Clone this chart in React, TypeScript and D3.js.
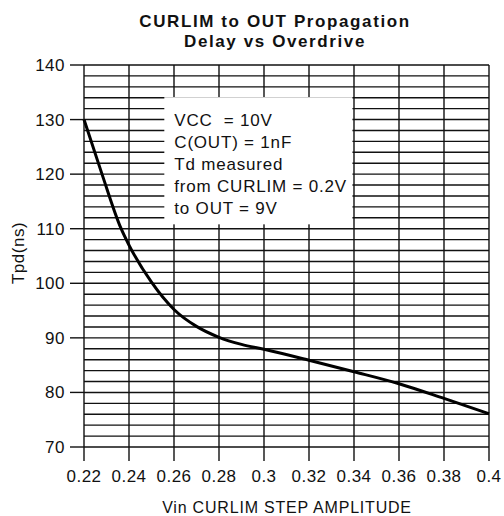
import * as d3 from 'd3';

const xTicks = [0.22, 0.24, 0.26, 0.28, 0.3, 0.32, 0.34, 0.36, 0.38, 0.4];
const xTickLabels = ['0.22', '0.24', '0.26', '0.28', '0.3', '0.32', '0.34', '0.36', '0.38', '0.4'];
const yTicks = [70, 80, 90, 100, 110, 120, 130, 140];
const yGrid = d3.range(70, 141, 2);

// Vin step amplitude (V) vs propagation delay (ns)
const vin = [0.22, 0.228, 0.2365, 0.24, 0.25, 0.26, 0.27, 0.28, 0.29, 0.3, 0.32, 0.34, 0.36, 0.38, 0.4];
const tpd = [130, 120, 110, 107, 100.2, 95.2, 92.1, 90.1, 88.8, 87.9, 85.9, 83.8, 81.6, 78.9, 76.1];

const legendLines = ['VCC  = 10V', 'C(OUT) = 1nF', 'Td measured', 'from CURLIM = 0.2V', 'to OUT = 9V'];

const W = 504;
const H = 516;
const FONT = '"Liberation Sans", Arial, Helvetica, sans-serif';

export default function App() {
  const x = d3.scaleLinear().domain([0.22, 0.4]).range([84, 489]);
  const y = d3.scaleLinear().domain([70, 140]).range([447, 65]);

  const pts = vin.map((v, i) => [v, tpd[i]] as [number, number]);
  const path =
    d3
      .line<[number, number]>()
      .x((d) => x(d[0]))
      .y((d) => y(d[1]))
      .curve(d3.curveMonotoneX)(pts) ?? '';

  const [x0, x1] = x.range();
  const [yb, yt] = y.range();

  // legend box knocks out the grid
  const box = { left: x(0.2557), right: x(0.3393), top: y(134.1), bottom: y(110.8) };

  return (
    <svg
      width={W}
      height={H}
      style={{ position: 'absolute', left: 0, top: 0, background: '#fff' }}
      fontFamily={FONT}
    >
      <text x={275} y={27} textAnchor="middle" fontSize={17} fontWeight="bold" letterSpacing={1.6} fill="#111">
        CURLIM to OUT Propagation
      </text>
      <text x={275} y={47} textAnchor="middle" fontSize={17} fontWeight="bold" letterSpacing={1.6} fill="#111">
        Delay vs Overdrive
      </text>

      {yGrid.map((v) => (
        <line key={'h' + v} x1={x0} x2={x1} y1={y(v)} y2={y(v)} stroke="#111" strokeWidth={1.4} />
      ))}
      {xTicks.map((v) => (
        <line key={'v' + v} x1={x(v)} x2={x(v)} y1={yt} y2={yb + 14} stroke="#111" strokeWidth={1.4} />
      ))}
      {yTicks.map((v) => (
        <line key={'t' + v} x1={x0 - 14} x2={x0} y1={y(v)} y2={y(v)} stroke="#111" strokeWidth={1.4} />
      ))}

      <rect x={box.left} y={box.top} width={box.right - box.left} height={box.bottom - box.top} fill="#fff" />
      {legendLines.map((s, i) => (
        <text key={s} x={box.left + 10} y={126 + i * 22} fontSize={17} letterSpacing={0.8} fill="#111" xmlSpace="preserve">
          {s}
        </text>
      ))}

      <path d={path} fill="none" stroke="#000" strokeWidth={3} />

      {yTicks.map((v) => (
        <text key={'yl' + v} x={x0 - 19} y={y(v) + 6} textAnchor="end" fontSize={17} letterSpacing={0.5} fill="#111">
          {v}
        </text>
      ))}
      {xTicks.map((v, i) => (
        <text key={'xl' + v} x={x(v)} y={482} textAnchor="middle" fontSize={17} letterSpacing={0.5} fill="#111">
          {xTickLabels[i]}
        </text>
      ))}

      <text x={287} y={513} textAnchor="middle" fontSize={16} letterSpacing={0.8} fill="#111">
        Vin CURLIM STEP AMPLITUDE
      </text>
      <text transform={`translate(24, 253) rotate(-90)`} textAnchor="middle" fontSize={17} letterSpacing={0.5} fill="#111">
        Tpd(ns)
      </text>
    </svg>
  );
}
